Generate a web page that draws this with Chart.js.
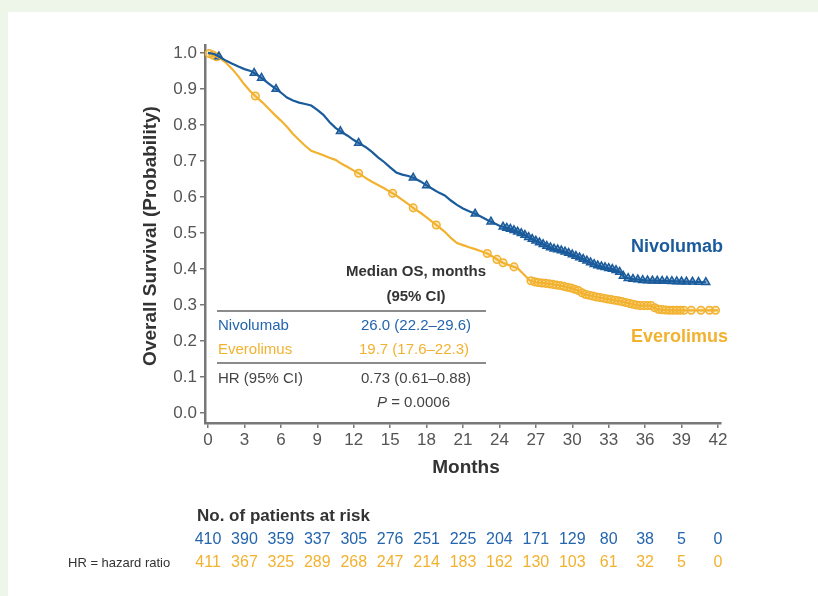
<!DOCTYPE html>
<html>
<head>
<meta charset="utf-8">
<script src="https://cdn.jsdelivr.net/npm/chart.js@4.4.1/dist/chart.umd.min.js"></script>
<style>
html, body { margin: 0; padding: 0; background: #eef5e9; }
#panel { position: absolute; left: 8px; top: 12px; width: 810px; height: 584px; background: #fff; }
#wrap { position: absolute; left: 0; top: 0; width: 818px; height: 596px; }
</style>
</head>
<body>
<div id="panel"></div>
<div id="wrap"><canvas id="km" width="818" height="596"></canvas></div>
<script>
// tick labels
const months = [0, 3, 6, 9, 12, 15, 18, 21, 24, 27, 30, 33, 36, 39, 42];
const probTicks = [0, 0.1, 0.2, 0.3, 0.4, 0.5, 0.6, 0.7, 0.8, 0.9, 1.0];

// Nivolumab curve (month, survival)
const nivoTime = [0, 0.5, 1, 1.5, 2, 2.5, 3, 3.5, 4, 4.5, 5, 5.5, 6, 6.5, 7, 7.5, 8, 8.5, 9, 9.5,
  10, 10.5, 11, 11.5, 12, 12.5, 13, 13.5, 14, 14.5, 15, 15.5, 16, 16.5, 17, 17.5, 18, 18.5, 19, 19.5,
  20, 20.5, 21, 21.5, 22, 22.5, 23, 23.5, 24, 24.5, 25, 25.5, 26, 26.5, 27, 27.5, 28, 28.5, 29, 29.5,
  30, 30.5, 31, 31.5, 32, 32.5, 33, 33.5, 34, 34.3, 35, 36, 38, 41];
const nivoSurv = [1.0, 0.997, 0.988, 0.978, 0.97, 0.962, 0.955, 0.95, 0.94, 0.928, 0.915, 0.902, 0.89, 0.876, 0.868, 0.862, 0.858, 0.854, 0.842, 0.828,
  0.808, 0.792, 0.78, 0.77, 0.758, 0.748, 0.738, 0.725, 0.71, 0.697, 0.682, 0.668, 0.662, 0.658, 0.652, 0.643, 0.632, 0.622, 0.612, 0.604,
  0.59, 0.578, 0.568, 0.56, 0.553, 0.545, 0.536, 0.528, 0.52, 0.515, 0.51, 0.503, 0.496, 0.486, 0.478, 0.47, 0.462, 0.456, 0.452, 0.447,
  0.44, 0.433, 0.426, 0.418, 0.41, 0.406, 0.402, 0.398, 0.39, 0.376, 0.372, 0.368, 0.366, 0.363];

// Everolimus curve (month, survival)
const everTime = [0, 1, 1.5, 2, 2.5, 3, 3.5, 4, 4.5, 5, 5.5, 6, 6.5, 7, 7.5, 8, 8.5, 9, 9.5,
  10, 10.5, 11, 11.5, 12, 12.5, 13, 13.5, 14, 14.5, 15, 15.5, 16, 16.5, 17, 17.5, 18, 18.5, 19, 19.5,
  20, 20.5, 21, 21.5, 22, 22.5, 23, 23.5, 24, 24.5, 25, 25.5, 26, 26.5, 27, 28, 29, 30, 30.5, 31, 32,
  33, 34, 35, 35.5, 36.5, 37, 38, 42];
const everSurv = [1.0, 0.985, 0.972, 0.955, 0.935, 0.912, 0.893, 0.877, 0.862, 0.845, 0.828, 0.812, 0.795, 0.775, 0.758, 0.742, 0.728, 0.722, 0.716,
  0.709, 0.703, 0.692, 0.683, 0.673, 0.664, 0.652, 0.642, 0.633, 0.624, 0.614, 0.604, 0.592, 0.58, 0.567, 0.556, 0.543, 0.53, 0.517, 0.503,
  0.486, 0.472, 0.466, 0.46, 0.455, 0.449, 0.443, 0.433, 0.422, 0.414, 0.408, 0.402, 0.385, 0.368, 0.363, 0.359, 0.354, 0.346, 0.34, 0.33, 0.322,
  0.316, 0.31, 0.302, 0.298, 0.298, 0.288, 0.285, 0.285];

// censoring times
const nivoCensor = [0.9, 3.8, 4.4, 5.6, 10.9, 12.4, 16.9, 18.0, 22.0, 23.3,
  24.3, 24.6, 24.9, 25.2, 25.5, 25.8, 26.1, 26.4, 26.7, 27.0, 27.3, 27.6, 27.9, 28.2, 28.5, 28.8, 29.1, 29.4, 29.7,
  30.0, 30.3, 30.6, 30.9, 31.2, 31.5, 31.8, 32.1, 32.4, 32.7, 33.0, 33.3, 33.6, 33.9, 34.2, 34.6, 35.0, 35.4, 35.8,
  36.2, 36.6, 37.0, 37.4, 37.8, 38.2, 38.6, 39.0, 39.4, 39.9, 40.4, 41.0];
const everCensor = [0.1, 0.4, 0.7, 3.9, 12.4, 15.2, 16.9, 18.8, 23.0, 23.8, 24.3, 25.2,
  26.6, 26.9, 27.2, 27.5, 27.8, 28.1, 28.4, 28.7, 29.0, 29.3, 29.6, 29.9, 30.2, 30.5, 30.8, 31.1, 31.4, 31.7,
  32.0, 32.3, 32.6, 32.9, 33.2, 33.5, 33.8, 34.1, 34.4, 34.7, 35.0, 35.3, 35.6, 35.9, 36.2, 36.5, 36.8, 37.1,
  37.4, 37.7, 38.0, 38.3, 38.6, 38.9, 39.2, 39.8, 40.6, 41.3, 41.8];

// number at risk
const nivoRisk = [410, 390, 359, 337, 305, 276, 251, 225, 204, 171, 129, 80, 38, 5, 0];
const everRisk = [411, 367, 325, 289, 268, 247, 214, 183, 162, 130, 103, 61, 32, 5, 0];

const BLUE = "#1a5b9c";
const BLUE_TXT = "#2465ad";
const ORANGE = "#f2b230";
const GREY = "#777";
const FONT = "'Liberation Sans', Arial, sans-serif";

function toPoints(times, surv) {
    return times.map((t, i) => ({ x: t, y: surv[i] }));
}

// put a censor mark on the drawn curve
function survAt(times, surv, t) {
    for (let i = 1; i < times.length; i++) {
        if (times[i] >= t) {
            const f = (t - times[i - 1]) / (times[i] - times[i - 1]);
            return surv[i - 1] + f * (surv[i] - surv[i - 1]);
        }
    }
    return surv[surv.length - 1];
}

function censorPoints(cens, times, surv) {
    return cens.map(t => ({ x: t, y: survAt(times, surv, t) }));
}

/* text around the plot */
const annotations = {
    id: "annotations",
    afterDraw(chart) {
        const ctx = chart.ctx;
        const x = chart.scales.x;
        ctx.save();
        ctx.textBaseline = "middle";

        // axis titles
        ctx.fillStyle = "#333";
        ctx.font = "bold 19px " + FONT;
        ctx.textAlign = "center";
        ctx.fillText("Months", 466, 468);
        ctx.save();
        ctx.translate(151, 236);
        ctx.rotate(-Math.PI / 2);
        ctx.fillText("Overall Survival (Probability)", 0, 0);
        ctx.restore();

        // curve labels
        ctx.font = "bold 18px " + FONT;
        ctx.textAlign = "left";
        ctx.fillStyle = BLUE;
        ctx.fillText("Nivolumab", 631, 247);
        ctx.fillStyle = ORANGE;
        ctx.fillText("Everolimus", 631, 337);

        // median table
        ctx.fillStyle = "#333";
        ctx.font = "bold 15px " + FONT;
        ctx.textAlign = "center";
        ctx.fillText("Median OS, months", 416, 272);
        ctx.fillText("(95% CI)", 416, 297);

        ctx.strokeStyle = "#666";
        ctx.lineWidth = 1.5;
        ctx.beginPath();
        ctx.moveTo(217, 311); ctx.lineTo(486, 311);
        ctx.moveTo(217, 363); ctx.lineTo(486, 363);
        ctx.stroke();

        ctx.font = "15px " + FONT;
        ctx.textAlign = "left";
        ctx.fillStyle = BLUE_TXT;
        ctx.fillText("Nivolumab", 218, 326);
        ctx.fillStyle = ORANGE;
        ctx.fillText("Everolimus", 218, 350);
        ctx.fillStyle = "#444";
        ctx.fillText("HR (95% CI)", 218, 379);

        ctx.textAlign = "center";
        ctx.fillStyle = BLUE_TXT;
        ctx.fillText("26.0 (22.2\u201329.6)", 416, 326);
        ctx.fillStyle = ORANGE;
        ctx.fillText("19.7 (17.6\u201322.3)", 414, 350);
        ctx.fillStyle = "#444";
        ctx.fillText("0.73 (0.61\u20130.88)", 416, 379);

        // P = 0.0006 with italic P
        ctx.textAlign = "left";
        ctx.font = "italic 15px " + FONT;
        ctx.fillText("P", 377, 403);
        ctx.font = "15px " + FONT;
        ctx.fillText(" = 0.0006", 387, 403);

        // patients at risk
        ctx.fillStyle = "#333";
        ctx.font = "bold 17px " + FONT;
        ctx.fillText("No. of patients at risk", 197, 516);
        ctx.font = "16px " + FONT;
        ctx.textAlign = "center";
        months.forEach((m, i) => {
            const px = x.getPixelForValue(m);
            ctx.fillStyle = BLUE_TXT;
            ctx.fillText(String(nivoRisk[i]), px, 540);
            ctx.fillStyle = ORANGE;
            ctx.fillText(String(everRisk[i]), px, 563);
        });

        ctx.fillStyle = "#333";
        ctx.textAlign = "left";
        ctx.font = "13px " + FONT;
        ctx.fillText("HR = hazard ratio", 68, 563);

        ctx.restore();
    }
};

new Chart(document.getElementById("km"), {
    type: "line",
    data: {
        datasets: [
            {
                data: toPoints(nivoTime, nivoSurv),
                borderColor: BLUE,
                borderWidth: 2.2,
                pointRadius: 0
            },
            {
                data: toPoints(everTime, everSurv),
                borderColor: ORANGE,
                borderWidth: 2.2,
                pointRadius: 0
            },
            {
                data: censorPoints(nivoCensor, nivoTime, nivoSurv),
                showLine: false,
                pointStyle: "triangle",
                pointRadius: 4.5,
                borderWidth: 1.5,
                borderColor: BLUE,
                backgroundColor: "rgba(26,91,156,0.5)"
            },
            {
                data: censorPoints(everCensor, everTime, everSurv),
                showLine: false,
                pointStyle: "circle",
                pointRadius: 3.8,
                borderWidth: 1.5,
                borderColor: ORANGE,
                backgroundColor: "rgba(242,178,48,0.3)"
            }
        ]
    },
    options: {
        responsive: false,
        animation: false,
        layout: { padding: { left: 0, right: 97, top: 45, bottom: 0 } },
        plugins: { legend: { display: false }, tooltip: { enabled: false } },
        scales: {
            x: {
                type: "linear",
                min: -0.25,
                max: 42.25,
                afterBuildTicks: s => { s.ticks = months.map(v => ({ value: v })); },
                afterFit: s => { s.height = 173; },
                grid: { drawOnChartArea: false, drawTicks: true, tickLength: 5, color: GREY, lineWidth: 1.5 },
                border: { display: true, color: GREY, width: 2.5 },
                ticks: { color: "#555", font: { size: 17, family: FONT }, padding: 2, maxRotation: 0, autoSkip: false }
            },
            y: {
                min: -0.028,
                max: 1.022,
                afterBuildTicks: s => { s.ticks = probTicks.map(v => ({ value: v })); },
                afterFit: s => { s.width = 205; },
                grid: { drawOnChartArea: false, drawTicks: true, tickLength: 5, color: GREY, lineWidth: 1.5 },
                border: { display: true, color: GREY, width: 2.5 },
                ticks: {
                    color: "#555",
                    font: { size: 17, family: FONT },
                    padding: 3,
                    callback: v => v.toFixed(1)
                }
            }
        }
    },
    plugins: [annotations]
});
</script>
</body>
</html>
